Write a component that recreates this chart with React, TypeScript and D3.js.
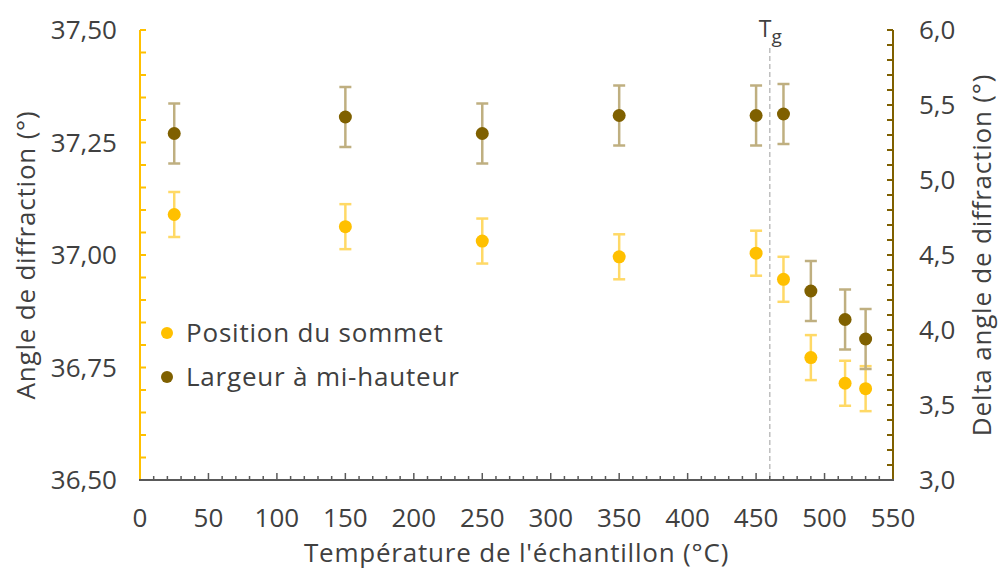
import React from "react";
import * as d3 from "d3";

const temperatures = [25, 150, 250, 350, 450, 470, 490, 515, 530];
const positionValues = [37.09, 37.063, 37.031, 36.996, 37.004, 36.946, 36.772, 36.715, 36.703];
const positionErrors = [0.05, 0.05, 0.05, 0.05, 0.05, 0.05, 0.05, 0.05, 0.05];
const widthValues = [5.31, 5.42, 5.31, 5.43, 5.43, 5.44, 4.26, 4.07, 3.94];
const widthErrors = [0.2, 0.2, 0.2, 0.2, 0.2, 0.2, 0.2, 0.2, 0.2];
const xTicks = [0, 50, 100, 150, 200, 250, 300, 350, 400, 450, 500, 550];
const leftTicks = [36.5, 36.75, 37.0, 37.25, 37.5];
const rightTicks = [3.0, 3.5, 4.0, 4.5, 5.0, 5.5, 6.0];
const tgValue = 460;
const seriesNames = ["Position du sommet", "Largeur à mi-hauteur"];

const W = 998;
const H = 571;
const M = { left: 140, right: 893, top: 30, bottom: 480 };
const FONT = "'Open Sans', Lato, sans-serif";
const TEXT = "#404040";
const GOLD = "#FFC000";
const GOLD_ERR = "#FFD966";
const BROWN = "#7F6000";
const BROWN_ERR = "#BFAF80";
const AXIS = "#595959";
const LS = 0.8;

export default function App() {
  const x = d3.scaleLinear().domain([0, 550]).range([M.left, M.right]);
  const yL = d3.scaleLinear().domain([36.5, 37.5]).range([M.bottom, M.top]);
  const yR = d3.scaleLinear().domain([3, 6]).range([M.bottom, M.top]);

  const xMinor = d3.range(0, 551, 10);
  const leftMinor = d3.range(0, 21).map((i) => 36.5 + i * 0.05);
  const rightMinor = d3.range(0, 31).map((i) => 3 + i * 0.1);

  const fmtL = (d: number) => d.toFixed(2).replace(".", ",");
  const fmtR = (d: number) => d.toFixed(1).replace(".", ",");

  const series = [
    { vals: positionValues, errs: positionErrors, y: yL, color: GOLD, err: GOLD_ERR },
    { vals: widthValues, errs: widthErrors, y: yR, color: BROWN, err: BROWN_ERR },
  ];

  return (
    <svg width={W} height={H} style={{ position: "absolute", left: 0, top: 0, background: "#fff" }} fontFamily={FONT}>
      {/* Tg dashed line */}
      <line x1={x(tgValue)} x2={x(tgValue)} y1={48} y2={M.bottom} stroke="#BFBFBF" strokeWidth={1.5} strokeDasharray="5,3" />
      <text x={x(tgValue) - 11} y={37} fontSize={23} fill={TEXT}>
        T<tspan dy={6} fontSize={19}>g</tspan>
      </text>

      {/* X axis */}
      {xMinor.map((t) => (
        <line key={"xm" + t} x1={x(t)} x2={x(t)} y1={M.bottom} y2={M.bottom - (t % 50 === 0 ? 7 : 4)} stroke={AXIS} strokeWidth={1.5} />
      ))}
      {xTicks.map((t) => (
        <text key={"xt" + t} x={x(t)} y={527} textAnchor="middle" fontSize={26} fill={TEXT}>{t}</text>
      ))}

      {/* Left axis */}
      {leftMinor.map((t, i) => (
        <line key={"lm" + i} x1={M.left} x2={M.left + 6} y1={yL(t)} y2={yL(t)} stroke={GOLD} strokeWidth={2} />
      ))}
      <line x1={M.left} x2={M.left} y1={M.top} y2={M.bottom} stroke={GOLD} strokeWidth={2} />
      {leftTicks.map((t) => (
        <text key={"lt" + t} x={117} y={yL(t)} dy="0.36em" textAnchor="end" fontSize={26} fill={TEXT}>{fmtL(t)}</text>
      ))}

      {/* Right axis */}
      {rightMinor.map((t, i) => (
        <line key={"rm" + i} x1={M.right} x2={M.right - 6} y1={yR(t)} y2={yR(t)} stroke={BROWN} strokeWidth={2} />
      ))}
      <line x1={M.right} x2={M.right} y1={M.top} y2={M.bottom} stroke={BROWN} strokeWidth={2} />
      {rightTicks.map((t) => (
        <text key={"rt" + t} x={919} y={yR(t)} dy="0.36em" textAnchor="start" fontSize={26} fill={TEXT}>{fmtR(t)}</text>
      ))}

      {/* bottom axis line */}
      <line x1={M.left - 1} x2={M.right + 1} y1={M.bottom} y2={M.bottom} stroke={AXIS} strokeWidth={2} />

      {/* Series */}
      {series.map((s, si) => (
        <g key={"s" + si}>
          {temperatures.map((t, i) => {
            const cx = x(t);
            const top = s.y(s.vals[i] + s.errs[i]);
            const bot = s.y(s.vals[i] - s.errs[i]);
            return (
              <g key={i} stroke={s.err} strokeWidth={2.5}>
                <line x1={cx} x2={cx} y1={top} y2={bot} />
                <line x1={cx - 6} x2={cx + 6} y1={top} y2={top} />
                <line x1={cx - 6} x2={cx + 6} y1={bot} y2={bot} />
              </g>
            );
          })}
          {temperatures.map((t, i) => (
            <circle key={"c" + i} cx={x(t)} cy={s.y(s.vals[i])} r={6.5} fill={s.color} />
          ))}
        </g>
      ))}

      {/* Legend */}
      <circle cx={167} cy={333} r={6} fill={GOLD} />
      <text x={186} y={333} dy="0.36em" fontSize={26} letterSpacing={LS} fill={TEXT}>{seriesNames[0]}</text>
      <circle cx={167} cy={377} r={6} fill={BROWN} />
      <text x={186} y={377} dy="0.36em" fontSize={26} letterSpacing={LS} fill={TEXT}>{seriesNames[1]}</text>

      {/* Axis titles */}
      <text x={(M.left + M.right) / 2} y={562} textAnchor="middle" fontSize={26} letterSpacing={LS} fill={TEXT}>
        Température de l'échantillon (°C)
      </text>
      <text transform={`translate(35, ${(M.top + M.bottom) / 2}) rotate(-90)`} textAnchor="middle" fontSize={26} letterSpacing={LS} fill={TEXT}>
        Angle de diffraction (°)
      </text>
      <text transform={`translate(991, ${(M.top + M.bottom) / 2}) rotate(-90)`} textAnchor="middle" fontSize={26} letterSpacing={LS} fill={TEXT}>
        Delta angle de diffraction (°)
      </text>
    </svg>
  );
}
